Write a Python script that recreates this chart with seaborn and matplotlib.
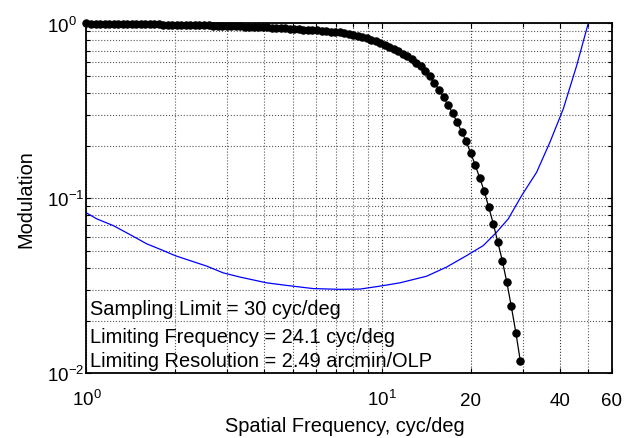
import matplotlib
matplotlib.use("Agg")
import matplotlib.pyplot as plt
from matplotlib.ticker import FixedLocator, FixedFormatter, LogLocator, NullFormatter
import numpy as np
import pandas as pd
import seaborn as sns

# MTF samples (cyc/deg, modulation)
mtf_freq = [
    1.000, 1.036, 1.073, 1.111, 1.151, 1.192, 1.235, 1.280, 1.326, 1.373,
    1.422, 1.473, 1.526, 1.581, 1.637, 1.696, 1.757, 1.820, 1.885, 1.953,
    2.023, 2.096, 2.171, 2.248, 2.329, 2.413, 2.499, 2.589, 2.682, 2.778,
    2.877, 2.981, 3.087, 3.198, 3.313, 3.432, 3.555, 3.682, 3.814, 3.951,
    4.093, 4.240, 4.392, 4.549, 4.713, 4.882, 5.057, 5.238, 5.426, 5.621,
    5.821, 6.031, 6.247, 6.471, 6.703, 6.944, 7.193, 7.451, 7.718, 7.995,
    8.279, 8.577, 8.884, 9.203, 9.533, 9.874, 10.23, 10.60, 10.97, 11.37,
    11.78, 12.20, 12.64, 13.09, 13.56, 14.05, 14.55, 15.07, 15.61, 16.17,
    16.75, 17.35, 17.97, 18.62, 19.29, 19.98, 20.70, 21.44, 22.21, 23.00,
    23.83, 24.68, 25.57, 26.48, 27.43, 28.42, 29.44,
]
mtf_mod = [
    1.000, 0.999, 0.999, 0.998, 0.998, 0.997, 0.996, 0.996, 0.995, 0.994,
    0.993, 0.992, 0.991, 0.990, 0.989, 0.988, 0.987, 0.986, 0.984, 0.983,
    0.982, 0.981, 0.980, 0.978, 0.977, 0.976, 0.975, 0.974, 0.972, 0.971,
    0.970, 0.969, 0.967, 0.965, 0.963, 0.961, 0.958, 0.956, 0.954, 0.952,
    0.950, 0.948, 0.945, 0.942, 0.938, 0.935, 0.931, 0.928, 0.924, 0.920,
    0.916, 0.912, 0.907, 0.903, 0.898, 0.893, 0.889, 0.882, 0.873, 0.863,
    0.852, 0.838, 0.824, 0.809, 0.794, 0.776, 0.757, 0.736, 0.715, 0.695,
    0.673, 0.650, 0.624, 0.598, 0.569, 0.535, 0.498, 0.457, 0.418, 0.378,
    0.342, 0.308, 0.2725, 0.2408, 0.2123, 0.1820, 0.1553, 0.1310, 0.1099, 0.0891,
    0.0718, 0.0564, 0.0441, 0.0332, 0.0241, 0.0171, 0.0117,
]

# Threshold modulation curve
thr_freq = [
    1.000, 1.083, 1.232, 1.404, 1.599, 1.820, 1.993, 2.240, 2.553, 2.905,
    3.309, 4.074, 4.763, 5.860, 7.215, 8.435, 9.854, 11.51, 14.18, 16.57,
    19.37, 22.04, 24.47, 26.79, 29.74, 33.42, 37.07, 41.13, 45.65, 49.96,
]
thr_mod = [
    0.0826, 0.0764, 0.0699, 0.0621, 0.0550, 0.0503, 0.0471, 0.0441, 0.0410, 0.0375,
    0.0355, 0.0329, 0.0318, 0.0305, 0.0302, 0.0303, 0.0315, 0.0329, 0.0359, 0.0405,
    0.0471, 0.0537, 0.0641, 0.0764, 0.1038, 0.1411, 0.2095, 0.3246, 0.574, 1.000,
]

x_ticks = [1, 10, 20, 40, 60]
x_tick_labels = [r"$\mathdefault{10^{0}}$", r"$\mathdefault{10^{1}}$", "20", "40", "60"]
y_ticks = [0.01, 0.1, 1]
y_tick_labels = [r"$\mathdefault{10^{-2}}$", r"$\mathdefault{10^{-1}}$", r"$\mathdefault{10^{0}}$"]

info_lines = [
    "Sampling Limit = 30 cyc/deg",
    "Limiting Frequency = 24.1 cyc/deg",
    "Limiting Resolution = 2.49 arcmin/OLP",
]

sns.set_theme(style="ticks")
plt.rcParams["font.family"] = ["Liberation Sans", "DejaVu Sans"]
plt.rcParams["mathtext.fontset"] = "custom"
plt.rcParams["mathtext.rm"] = "Liberation Sans"
plt.rcParams["mathtext.it"] = "Liberation Sans:italic"
plt.rcParams["mathtext.bf"] = "Liberation Sans:bold"

fig = plt.figure(figsize=(6.36, 4.39), dpi=100)
ax = fig.add_axes([0.1360, 0.1474, 0.8258, 0.7968])
ax.set_facecolor("white")
ax.set_xscale("log")
ax.set_yscale("log")

mtf_df = pd.DataFrame({"freq": mtf_freq, "mod": mtf_mod})
thr_df = pd.DataFrame({"freq": thr_freq, "mod": thr_mod})

sns.lineplot(data=thr_df, x="freq", y="mod", color="#0000ff", lw=0.9,
             ax=ax, legend=False, sort=False)
sns.lineplot(data=mtf_df, x="freq", y="mod", color="black", lw=0.9,
             marker="o", markersize=5.3, markeredgecolor="black",
             markerfacecolor="black", ax=ax, legend=False, clip_on=False,
             sort=False)

ax.set_xlim(1, 60)
ax.set_ylim(0.01, 1)

ax.xaxis.set_major_locator(FixedLocator(x_ticks))
ax.xaxis.set_major_formatter(FixedFormatter(x_tick_labels))
ax.xaxis.set_minor_locator(LogLocator(base=10, subs=np.arange(2, 10), numticks=20))
ax.xaxis.set_minor_formatter(NullFormatter())
ax.yaxis.set_major_locator(FixedLocator(y_ticks))
ax.yaxis.set_major_formatter(FixedFormatter(y_tick_labels))
ax.yaxis.set_minor_locator(LogLocator(base=10, subs=np.arange(2, 10), numticks=20))
ax.yaxis.set_minor_formatter(NullFormatter())

ax.grid(True, which="major", color="0.2", ls=":", lw=0.8)
ax.grid(True, which="minor", color="0.35", ls=":", lw=0.8)

for s in ax.spines.values():
    s.set_color("black")
    s.set_linewidth(1.3)

ax.tick_params(which="both", direction="in", top=True, right=True,
               color="black", width=0.8, labelcolor="black")
ax.tick_params(which="major", length=3.5, labelsize=13.5)
ax.tick_params(which="minor", length=3.0)
ax.tick_params(axis="x", which="major", pad=22.8)
ax.tick_params(axis="y", which="major", pad=28.7)

for t in ax.get_xticklabels():
    t.set_verticalalignment("baseline")
for t in ax.get_yticklabels():
    t.set_horizontalalignment("left")

ax.set_xlabel("Spatial Frequency, cyc/deg", fontsize=14.4, color="black")
ax.set_ylabel("Modulation", fontsize=14.4, color="black")
ax.xaxis.set_label_coords(0.492, -0.122)
ax.yaxis.set_label_coords(-0.0967, 0.5)

text_y = [0.1695, 0.0886, 0.0217]
for line, ty in zip(info_lines, text_y):
    ax.text(0.0076, ty, line, transform=ax.transAxes, fontsize=14.4,
            va="baseline", ha="left", color="black")

fig.savefig("out.png", dpi=100, facecolor="white")
